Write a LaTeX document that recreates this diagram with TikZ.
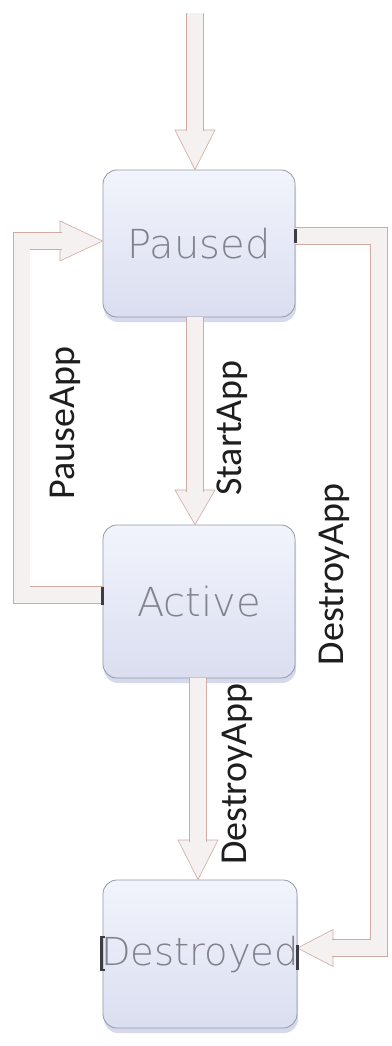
\documentclass[tikz,border=0pt]{standalone}
\usepackage{fontspec}
\setmainfont{Carlito}
\newfontfamily\boxfont{DejaVu Sans ExtraLight}
\usetikzlibrary{calc,shadows}
\definecolor{boxtop}{RGB}{242,244,252}
\definecolor{boxbot}{RGB}{218,222,240}
\definecolor{boxline}{RGB}{150,152,165}
\definecolor{arrfill}{RGB}{244,241,240}
\definecolor{arrline}{RGB}{206,172,162}
\definecolor{shadowc}{RGB}{185,192,222}
\definecolor{labelc}{RGB}{30,30,30}
\definecolor{boxtext}{RGB}{130,130,140}
\definecolor{edgec}{RGB}{60,60,65}
\begin{document}
\begin{tikzpicture}[x=1pt,y=-1pt,
  statebox/.style={rounded corners=14pt, draw=boxline, line width=0.8pt,
    top color=boxtop, bottom color=boxbot, minimum width=192pt, inner sep=0pt,
    font=\boxfont\fontsize{40}{40}\selectfont, text=boxtext,
    drop shadow={shadow xshift=1pt, shadow yshift=-5pt, fill=shadowc, opacity=0.6}},
  shaft/.style={draw=arrline, double=arrfill, double distance=16pt, line width=0.6pt,
    line cap=butt, line join=miter},
  headst/.style={draw=arrline, fill=arrfill, line width=0.6pt, line join=miter},
  translabel/.style={rotate=90, font=\fontsize{38}{38}\selectfont, text=labelc, inner sep=0pt},
  edgemark/.style={draw=edgec, line width=2.5pt}
]
\fill[white] (0,0) rectangle (391,1046);
\useasboundingbox (0,0) rectangle (391,1046);

% states
\node[statebox, minimum height=147pt] (paused) at (199,243.5) {\makebox[0pt]{Paused}};
\node[statebox, minimum height=153pt] (active) at (199,601.5) {\makebox[0pt]{\raisebox{0pt}[\height][0pt]{Active}}};
\node[statebox, minimum width=194pt, minimum height=148pt] (destroyed) at (200,954) {\makebox[0pt]{\fontsize{38.5}{38.5}\selectfont Destroyed}};

% entry arrow
\coordinate (entry) at (195,13);
\coordinate (entryhead) at (195,130);
\draw[headst] ($(entryhead)+(-20,0)$) -- (entry |- paused.north) -- ($(entryhead)+(20,0)$) -- cycle;
\draw[shaft] (entry) -- ($(entryhead)+(0,1.5)$);

% StartApp
\coordinate (sa) at (195,490);
\draw[headst] ($(sa)+(-20,0)$) -- (sa |- active.north) -- ($(sa)+(20,0)$) -- cycle;
\draw[shaft] (sa |- paused.south) -- ($(sa)+(0,1.5)$);

% DestroyApp (Active -> Destroyed)
\coordinate (da) at (198,840);
\draw[headst] ($(da)+(-20,0)$) -- (da |- destroyed.north) -- ($(da)+(20,0)$) -- cycle;
\draw[shaft] (da |- active.south) -- ($(da)+(0,1.5)$);

% PauseApp loop (Active -> Paused)
\coordinate (pstart) at (0,595);
\coordinate (pc1) at (21.5,595);
\coordinate (pc2) at (21.5,241);
\coordinate (pah) at (60,241);
\draw[headst] ($(pah)+(0,-20)$) -- (pah -| paused.west) -- ($(pah)+(0,20)$) -- cycle;
\draw[shaft] (active.west |- pstart) -- (pc1) -- (pc2) -- ($(pah)+(1.5,0)$);

% DestroyApp loop (Paused -> Destroyed)
\coordinate (rstart) at (0,236);
\coordinate (rc1) at (379,236);
\coordinate (rc2) at (379,948);
\coordinate (rha) at (333,948);
\draw[headst] ($(rha)+(0,-18.5)$) -- (rha -| destroyed.east) -- ($(rha)+(0,18.5)$) -- cycle;
\draw[shaft] (paused.east |- rstart) -- (rc1) -- (rc2) -- ($(rha)+(-1.5,0)$);

% edge marks
\draw[edgemark] ($(active.west)+(0,-15)$) -- ($(active.west)+(0,3)$);
\draw[edgemark] ($(paused.east)+(0,-15)$) -- ($(paused.east)+(0,-1)$);
\draw[edgemark] ($(destroyed.west)+(2,-17)$) -- ++(-3,0) -- ++(0,33) -- ++(3,0);
\draw[edgemark] ($(destroyed.east)+(0,-9)$) -- ($(destroyed.east)+(0,16)$);

% labels
\node[translabel] (lpause) at (65,423) {PauseApp};
\node[translabel] (lstart) at (232.5,428) {StartApp};
\node[translabel] (ldestroyA) at (334.5,574.5) {DestroyApp};
\node[translabel] (ldestroyB) at (237.5,774) {DestroyApp};
\end{tikzpicture}
\end{document}
